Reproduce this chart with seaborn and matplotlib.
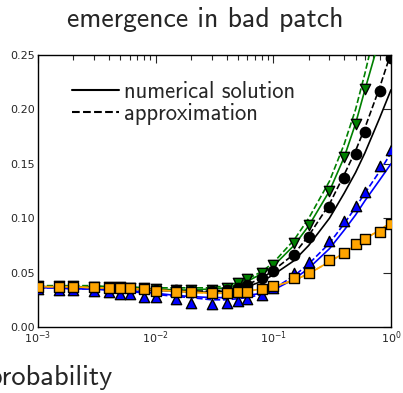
import os
import matplotlib
matplotlib.use("Agg")
import matplotlib.pyplot as plt
from matplotlib.font_manager import FontProperties
from matplotlib.lines import Line2D
from matplotlib.ticker import FixedLocator, FormatStrFormatter, LogLocator
import numpy as np
import pandas as pd
import seaborn as sns

# sampled probabilities (shared by simulations and theory curves)
prob = [0.001, 0.0015, 0.002, 0.003, 0.004, 0.005, 0.006, 0.008, 0.01, 0.015,
        0.02, 0.03, 0.04, 0.05, 0.06, 0.08, 0.1, 0.15, 0.2, 0.3, 0.4, 0.5,
        0.6, 0.8, 1.0]

# green series
green_sim = [0.038, 0.038, 0.038, 0.037, 0.037, 0.037, 0.036, 0.036, 0.035, 0.034,
             0.034, 0.034, 0.036, 0.040, 0.044, 0.050, 0.057, 0.077, 0.094, 0.125,
             0.156, 0.187, 0.219, 0.275, 0.330]
green_num = [0.037, 0.037, 0.037, 0.037, 0.036, 0.036, 0.036, 0.035, 0.035, 0.034,
             0.034, 0.035, 0.036, 0.039, 0.042, 0.049, 0.056, 0.075, 0.093, 0.125,
             0.156, 0.187, 0.218, 0.265, 0.310]
green_apx = [0.038, 0.038, 0.038, 0.038, 0.037, 0.037, 0.037, 0.036, 0.036, 0.036,
             0.036, 0.036, 0.038, 0.041, 0.044, 0.051, 0.059, 0.080, 0.100, 0.134,
             0.168, 0.200, 0.233, 0.290, 0.345]

# black series
black_sim = [0.037, 0.037, 0.037, 0.036, 0.036, 0.036, 0.035, 0.035, 0.034, 0.034,
             0.033, 0.033, 0.034, 0.036, 0.0386, 0.0448, 0.0518, 0.066, 0.0824, 0.1106,
             0.137, 0.159, 0.1795, 0.217, 0.247]
black_num = [0.037, 0.037, 0.036, 0.036, 0.036, 0.035, 0.035, 0.034, 0.034, 0.033,
             0.032, 0.032, 0.033, 0.035, 0.037, 0.042, 0.048, 0.061, 0.075, 0.100,
             0.123, 0.142, 0.160, 0.192, 0.218]
black_apx = [0.037, 0.037, 0.037, 0.036, 0.036, 0.036, 0.035, 0.035, 0.034, 0.033,
             0.033, 0.033, 0.034, 0.036, 0.039, 0.045, 0.052, 0.067, 0.084, 0.113,
             0.140, 0.162, 0.183, 0.220, 0.252]

# blue series
blue_sim = [0.035, 0.034, 0.034, 0.033, 0.032, 0.030, 0.030, 0.028, 0.028, 0.0254,
            0.0224, 0.0211, 0.0224, 0.024, 0.0257, 0.0294, 0.0355, 0.050, 0.060, 0.079,
            0.097, 0.111, 0.124, 0.148, 0.163]
blue_num = [0.036, 0.036, 0.035, 0.035, 0.034, 0.033, 0.033, 0.032, 0.031, 0.029,
            0.028, 0.027, 0.027, 0.028, 0.029, 0.031, 0.034, 0.044, 0.054, 0.072,
            0.089, 0.103, 0.116, 0.135, 0.150]
blue_apx = [0.036, 0.036, 0.035, 0.035, 0.034, 0.033, 0.033, 0.031, 0.030, 0.028,
            0.027, 0.025, 0.025, 0.026, 0.027, 0.030, 0.035, 0.047, 0.058, 0.077,
            0.095, 0.110, 0.123, 0.143, 0.160]

# orange series
orange_sim = [0.037, 0.037, 0.037, 0.037, 0.036, 0.036, 0.036, 0.035, 0.0334, 0.0325,
              0.032, 0.031, 0.031, 0.032, 0.0325, 0.0346, 0.038, 0.0453, 0.0493, 0.0616,
              0.0677, 0.0763, 0.0806, 0.0876, 0.0947]
orange_num = [0.037, 0.037, 0.037, 0.036, 0.036, 0.036, 0.035, 0.035, 0.034, 0.033,
              0.032, 0.031, 0.031, 0.032, 0.033, 0.035, 0.037, 0.043, 0.049, 0.060,
              0.068, 0.075, 0.081, 0.089, 0.096]
orange_apx = orange_num

yticks = [0.00, 0.05, 0.10, 0.15, 0.20, 0.25]
title_text = "emergence in bad patch"
xlabel_text = "probability"
legend_labels = ["numerical solution", "approximation"]

sns.set_style("white")
plt.rcParams.update({
    "xtick.direction": "in", "ytick.direction": "in",
    "xtick.top": True, "ytick.right": True,
    "xtick.major.size": 6, "ytick.major.size": 6,
    "xtick.minor.size": 3.5, "ytick.minor.size": 3.5,
    "xtick.major.width": 0.8, "ytick.major.width": 0.8,
    "xtick.minor.width": 0.8,
    "xtick.labelsize": 8, "ytick.labelsize": 8,
    "axes.edgecolor": "black", "axes.linewidth": 1.0,
})
plt.rcParams["font.family"] = ["DejaVu Sans"]

cmss_file = os.path.join(matplotlib.get_data_path(), "fonts", "ttf", "cmss10.ttf")

fig = plt.figure(figsize=(4.03, 3.93), dpi=100)
ax = fig.add_axes([38 / 403, 66 / 393, 353 / 403, 272 / 393])

series = [
    ("green", "v", green_sim, green_num, green_apx),
    ("black", "o", black_sim, black_num, black_apx),
    ("blue", "^", blue_sim, blue_num, blue_apx),
    ("orange", "s", orange_sim, orange_num, orange_apx),
]

for z, (col, mk, sim, num, apx) in enumerate(series):
    df = pd.DataFrame({"p": prob, "sim": sim, "num": num, "apx": apx})
    sns.lineplot(data=df, x="p", y="apx", color=col, lw=1.2, ls="--",
                 ax=ax, zorder=2 + 3 * z, legend=False, estimator=None)
    sns.lineplot(data=df, x="p", y="num", color=col, lw=1.2, ls="-",
                 ax=ax, zorder=3 + 3 * z, legend=False, estimator=None)
    sns.scatterplot(data=df, x="p", y="sim", color=col, marker=mk, s=55,
                    edgecolor="black", linewidth=1.0, ax=ax, zorder=4 + 3 * z,
                    legend=False)

ax.set_xscale("log")
ax.set_xlim(1e-3, 1.0)
ax.set_ylim(0.0, 0.25)
ax.yaxis.set_major_locator(FixedLocator(yticks))
ax.yaxis.set_major_formatter(FormatStrFormatter("%.2f"))
ax.xaxis.set_major_locator(LogLocator(base=10))
ax.xaxis.set_minor_locator(LogLocator(base=10, subs=np.arange(2, 10)))
ax.tick_params(axis="both", which="major", pad=2)
ax.set_xlabel("")
ax.set_ylabel("")

handles = [Line2D([], [], color="black", lw=1.5, ls="-"),
           Line2D([], [], color="black", lw=1.5, ls="--")]
ax.legend(handles, legend_labels, loc="upper left", frameon=False,
          prop=FontProperties(fname=cmss_file, size=16.3),
          handlelength=2.07, handletextpad=0.25, labelspacing=0.0,
          bbox_to_anchor=(0.038, 0.98))

fig.text(205 / 403, 1 - 20 / 393, title_text, ha="center", va="center",
         fontproperties=FontProperties(fname=cmss_file, size=20))
fig.text(-12 / 403, 8 / 393, xlabel_text, ha="left", va="baseline",
         fontproperties=FontProperties(fname=cmss_file, size=20.5))

fig.savefig("out.png", dpi=100)
